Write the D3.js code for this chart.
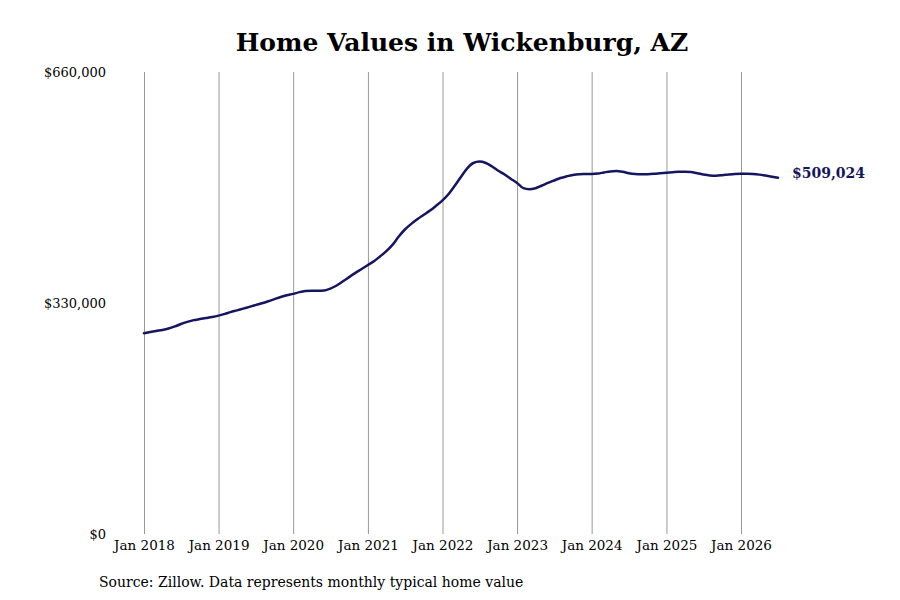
<!DOCTYPE html>
<html><head><meta charset="utf-8">
<script src="https://cdn.jsdelivr.net/npm/d3@7/dist/d3.min.js"></script>
<style>body{margin:0;background:#fff;} svg{display:block;}</style>
</head><body>
<svg id="c" width="900" height="600"></svg>
<script>
const startYear = 2018, startMonth = 0;
const values = [
  286700,288500,290000,291500,293500,296500,300000,303000,305500,307000,308500,310000,
  312000,314500,317000,319500,322000,324500,327000,329600,332500,335500,338500,341000,
  343000,345500,347000,347500,347500,348000,350500,355000,361000,367000,373000,378500,
  384300,390000,396500,404000,413000,425000,435000,443000,450000,456000,462000,469000,
  476500,486000,497000,510000,522000,530000,532000,530000,525000,519000,513500,507500,
  501500,494000,492500,494000,497500,501500,505000,508500,511000,513000,514000,514200,
  514300,515000,516500,518000,518600,517500,515500,514300,513900,514000,514500,515300,
  516100,516800,517400,517600,517000,515500,513500,512200,511900,512500,513500,514300,
  514700,514800,514400,513400,512000,510500,509024
];
const tickYears = [2018,2019,2020,2021,2022,2023,2024,2025,2026];
const yTicks = [0,330000,660000];
const title = "Home Values in Wickenburg, AZ";
const source = "Source: Zillow. Data represents monthly typical home value";

const data = values.map((v,i)=>({date:new Date(startYear, startMonth+i, 1), value:v}));
const svg = d3.select("#c");
const x = d3.scaleTime().domain([new Date(2018,0,1), new Date(2026,0,1)]).range([144,741]);
const y = d3.scaleLinear().domain([0,660000]).range([534,72]);
const serif = "'DejaVu Serif', serif";

svg.append("text").attr("x",462).attr("y",51).attr("text-anchor","middle")
  .attr("font-family",serif).attr("font-weight","bold").attr("font-size",25).attr("fill","#000").text(title);

const xAxis = d3.axisBottom(x).tickValues(tickYears.map(yr=>new Date(yr,0,1)))
  .tickFormat(d3.timeFormat("Jan %Y")).tickSize(462).tickPadding(6);
const gx = svg.append("g").attr("transform","translate(0,72)").call(xAxis);
gx.select(".domain").remove();
gx.selectAll("line").attr("stroke","#999").attr("stroke-width",1);
gx.selectAll("text").attr("font-family",serif).attr("font-size",13.5).attr("fill","#000");

const yAxis = d3.axisLeft(y).tickValues(yTicks).tickFormat(d=>"$"+d3.format(",")(d)).tickSize(0).tickPadding(0);
const gy = svg.append("g").attr("transform","translate(106,0)").call(yAxis);
gy.select(".domain").remove();
gy.selectAll("text").attr("font-family",serif).attr("font-size",13).attr("fill","#000");

const line = d3.line().x(d=>x(d.date)).y(d=>y(d.value)).curve(d3.curveMonotoneX);
svg.append("path").datum(data).attr("d",line).attr("fill","none")
  .attr("stroke","#151560").attr("stroke-width",2.5).attr("stroke-linejoin","round").attr("stroke-linecap","round");

const last = data[data.length-1];
svg.append("text").attr("x",x(last.date)+14).attr("y",y(last.value)-5)
  .attr("dy","0.35em").attr("font-family",serif).attr("font-weight","bold").attr("font-size",14)
  .attr("fill","#151560").text("$"+d3.format(",")(last.value));

svg.append("text").attr("x",99).attr("y",587).attr("font-family",serif).attr("font-size",14)
  .attr("fill","#000").text(source);
</script>
</body></html>
